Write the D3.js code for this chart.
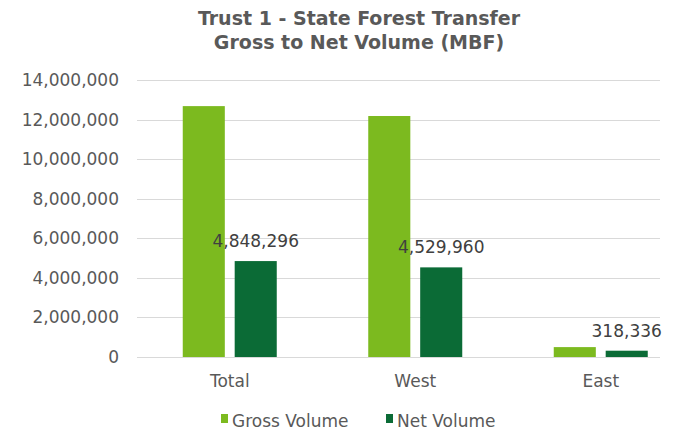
<!DOCTYPE html>
<html>
<head>
<meta charset="utf-8">
<script src="https://cdn.jsdelivr.net/npm/d3@7"></script>
<style>
	body { margin: 0; background: #fff; }
	text { font-family: "DejaVu Sans", Verdana, sans-serif; }
</style>
</head>
<body>
<svg id="chart"></svg>
<script>
const categories = ["Total", "West", "East"];
const seriesNames = ["Gross Volume", "Net Volume"];
const grossVolume = [12680000, 12180000, 500000];
const netVolume = [4848296, 4529960, 318336];
const yTicks = [0, 2000000, 4000000, 6000000, 8000000, 10000000, 12000000, 14000000];
const titleLines = ["Trust 1 - State Forest Transfer", "Gross to Net Volume (MBF)"];

const colors = { "Gross Volume": "#7cba1f", "Net Volume": "#0b6b36" };

const data = categories.map((c, i) => ({
	category: c,
	values: [
		{ series: "Gross Volume", value: grossVolume[i] },
		{ series: "Net Volume", value: netVolume[i] }
	]
}));

const width = 680, height = 432;
const plot = { left: 137, right: 660, top: 80, bottom: 357 };

const svg = d3.select("#chart")
	.attr("width", width)
	.attr("height", height);

const x0 = d3.scaleBand()
	.domain(categories)
	.range([137, 693.5])
	.padding(0);

const x1 = d3.scaleBand()
	.domain(seriesNames)
	.range([x0.bandwidth() / 2 - 47, x0.bandwidth() / 2 + 47])
	.paddingInner(0.19)
	.paddingOuter(0);

const y = d3.scaleLinear()
	.domain([0, 14000000])
	.range([plot.bottom, plot.top]);

const fmt = d3.format(",");

// title
svg.append("g")
	.selectAll("text")
	.data(titleLines)
	.enter().append("text")
	.attr("x", 359)
	.attr("y", (d, i) => 25 + i * 24)
	.attr("text-anchor", "middle")
	.attr("font-size", "19px")
	.attr("font-weight", "bold")
	.attr("fill", "#595959")
	.text(d => d);

// gridlines
svg.append("g")
	.selectAll("line")
	.data(yTicks)
	.enter().append("line")
	.attr("x1", plot.left)
	.attr("x2", plot.right)
	.attr("y1", d => Math.round(y(d)) + 0.5)
	.attr("y2", d => Math.round(y(d)) + 0.5)
	.attr("stroke", "#d9d9d9")
	.attr("stroke-width", 1);

// y axis labels
const yAxis = svg.append("g")
	.attr("transform", "translate(119,0)")
	.call(d3.axisLeft(y).tickValues(yTicks).tickFormat(fmt).tickSize(0).tickPadding(0));
yAxis.select(".domain").remove();
yAxis.selectAll("text")
	.attr("font-size", "17px")
	.attr("font-family", "DejaVu Sans, Verdana, sans-serif")
	.attr("fill", "#595959");

// x axis labels
const xAxis = svg.append("g")
	.attr("transform", `translate(0,${plot.bottom})`)
	.call(d3.axisBottom(x0).tickSize(0).tickPadding(0));
xAxis.select(".domain").remove();
xAxis.selectAll("text")
	.attr("dy", null)
	.attr("y", 30)
	.attr("font-size", "17px")
	.attr("font-family", "DejaVu Sans, Verdana, sans-serif")
	.attr("fill", "#595959");

// bars
const groups = svg.selectAll(".cat")
	.data(data)
	.enter().append("g")
	.attr("class", "cat")
	.attr("transform", d => `translate(${x0(d.category)},0)`);

groups.selectAll("rect")
	.data(d => d.values)
	.enter().append("rect")
	.attr("x", d => x1(d.series))
	.attr("y", d => y(d.value))
	.attr("width", x1.bandwidth())
	.attr("height", d => y(0) - y(d.value))
	.attr("fill", d => colors[d.series]);

// data labels on net bars
groups.append("text")
	.attr("x", x1("Net Volume") + x1.bandwidth() / 2)
	.attr("y", d => y(d.values[1].value) - 14)
	.attr("text-anchor", "middle")
	.attr("font-size", "17px")
	.attr("fill", "#404040")
	.text(d => fmt(d.values[1].value));

// legend
const legendX = [221, 386];
const legend = svg.append("g")
	.selectAll("g")
	.data(seriesNames)
	.enter().append("g")
	.attr("transform", (d, i) => `translate(${legendX[i]},414)`);

legend.append("rect")
	.attr("width", 7)
	.attr("height", 9)
	.attr("fill", d => colors[d]);

legend.append("text")
	.attr("x", 11)
	.attr("y", 13)
	.attr("font-size", "17px")
	.attr("fill", "#595959")
	.text(d => d);
</script>
</body>
</html>
